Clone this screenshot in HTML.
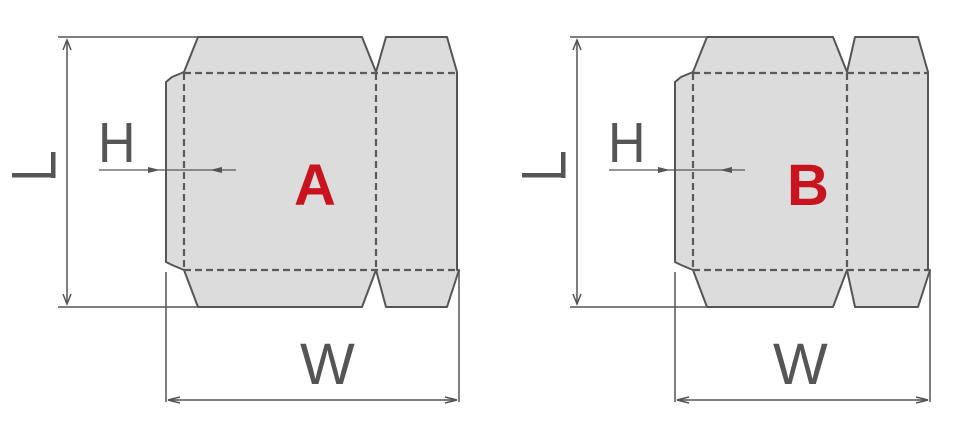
<!DOCTYPE html>
<html><head><style>body{margin:0;background:#fff}svg{display:block}</style></head><body>
<svg width="954" height="433" viewBox="0 0 954 433" xmlns="http://www.w3.org/2000/svg" font-family="Liberation Sans, sans-serif">
<g stroke="#555" stroke-width="1.5" fill="none">
<line x1="58" y1="37" x2="200" y2="37"/>
<line x1="58" y1="307" x2="200" y2="307"/>
<line x1="67" y1="40" x2="67" y2="304"/>
<path d="M63,50 L67,40 L71,50 M63,294 L67,304 L71,294"/>
<line x1="166" y1="272" x2="166" y2="402"/>
<line x1="459" y1="270" x2="459" y2="402"/>
<line x1="168" y1="400" x2="457" y2="400"/>
<path d="M180,397 L168,400 L180,403 M445,397 L457,400 L445,403"/>
<line x1="570" y1="37" x2="709" y2="37"/>
<line x1="570" y1="307" x2="709" y2="307"/>
<line x1="577" y1="40" x2="577" y2="304"/>
<path d="M573,50 L577,40 L581,50 M573,294 L577,304 L581,294"/>
<line x1="675" y1="272" x2="675" y2="402"/>
<line x1="930" y1="270" x2="930" y2="402"/>
<line x1="677" y1="400" x2="928" y2="400"/>
<path d="M689,397 L677,400 L689,403 M916,397 L928,400 L916,403"/>
</g>
<path d="M198,37 L362,37 L376,72 L386,37 L447,37 L457,72 L457,270 L459,270 L447,307 L386,307 L376,270 L362,307 L198,307 L184,270 L172,265 L166,262 L166,82 L172,77 L184,72 Z" fill="#dcdcdc" stroke="#555" stroke-width="2" stroke-linejoin="round"/>
<g stroke="#5a5a5a" stroke-width="2.2" stroke-dasharray="7 4" fill="none">
<line x1="184" y1="73" x2="457" y2="73"/><line x1="184" y1="270" x2="459" y2="270"/>
<line x1="184" y1="73" x2="184" y2="270"/><line x1="376" y1="73" x2="376" y2="270"/>
</g>
<path d="M707,37 L833,37 L847,72 L855,37 L918,37 L928,72 L928,270 L930,270 L918,307 L855,307 L847,270 L833,307 L707,307 L693,270 L681,265 L675,262 L675,82 L681,77 L693,72 Z" fill="#dcdcdc" stroke="#555" stroke-width="2" stroke-linejoin="round"/>
<g stroke="#5a5a5a" stroke-width="2.2" stroke-dasharray="7 4" fill="none">
<line x1="693" y1="73" x2="928" y2="73"/><line x1="693" y1="270" x2="930" y2="270"/>
<line x1="693" y1="73" x2="693" y2="270"/><line x1="847" y1="73" x2="847" y2="270"/>
</g>
<g stroke="#555" stroke-width="1.2">
<line x1="99" y1="170" x2="236" y2="170"/>
<line x1="609" y1="170" x2="745" y2="170"/>
</g>
<g fill="#555">
<path d="M148,167 L160,170 L148,173 Z"/><path d="M222,167 L210,170 L222,173 Z"/>
<path d="M658,167 L670,170 L658,173 Z"/><path d="M732,167 L720,170 L732,173 Z"/>
</g>
<g fill="#555">
<rect x="51" y="152" width="4.5" height="26"/><rect x="12" y="173" width="43.5" height="4.5"/>
<rect x="561" y="152" width="4.5" height="26"/><rect x="522" y="173" width="43.5" height="4.5"/>
</g>
<g fill="#555" font-size="52">
<text x="98" y="162" transform="scale(1,1.09)" transform-origin="98 162">H</text>
<text x="608" y="162" transform="scale(1,1.09)" transform-origin="608 162">H</text>
<text x="300" y="384" font-size="58">W</text><text x="773" y="384" font-size="58">W</text>
</g>
<g fill="#c8141e" font-weight="bold" font-size="58">
<text x="294" y="205">A</text><text x="787" y="205">B</text>
</g>
</svg>
</body></html>
